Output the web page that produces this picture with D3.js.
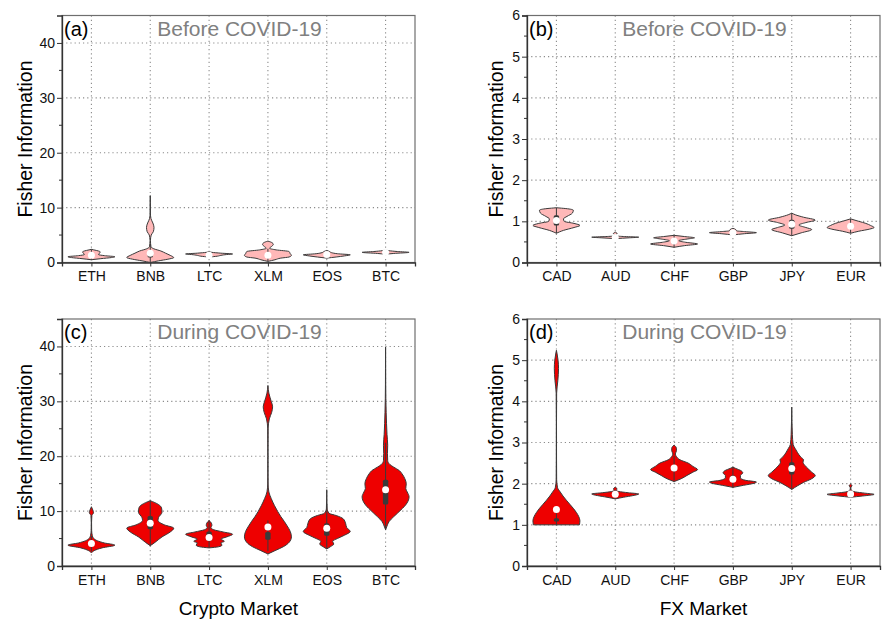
<!DOCTYPE html>
<html>
<head>
<meta charset="utf-8">
<script src="https://cdn.jsdelivr.net/npm/d3@7"></script>
<style>
  body { margin: 0; background: #fff; }
  svg { font-family: "Liberation Sans", Arial, sans-serif; }
</style>
</head>
<body>
<svg id="chart" width="882" height="620"></svg>
<script>
// categories
const cryptoNames = ["ETH", "BNB", "LTC", "XLM", "EOS", "BTC"];
const fxNames = ["CAD", "AUD", "CHF", "GBP", "JPY", "EUR"];

// violin profiles: [value, relative density]
const cryptoBefore = [
  [[0.5,0],[0.7,0.4],[0.9,0.85],[1.05,1.0],[1.25,0.55],[1.45,0.3],[1.65,0.33],[1.9,0.38],[2.1,0.3],[2.3,0.1],[2.4,0]],
  [[0,0],[0.3,0.35],[0.6,0.75],[0.9,1.0],[1.3,0.85],[1.7,0.65],[2.1,0.45],[2.5,0.15],[2.9,0.03],[4,0.008],[5,0.04],[5.6,0.13],[6.4,0.16],[7.2,0.11],[8,0.03],[9,0.006],[11,0.004],[12.2,0]],
  [[1.0,0],[1.15,0.35],[1.3,0.5],[1.45,0.75],[1.55,1.0],[1.7,0.5],[1.85,0.12],[2.0,0]],
  [[0.2,0],[0.5,0.3],[0.8,0.55],[1.0,0.9],[1.3,1.0],[1.6,0.95],[2.0,0.9],[2.3,0.35],[2.6,0.07],[2.9,0.15],[3.3,0.23],[3.6,0.18],[3.9,0]],
  [[0.8,0],[1.0,0.4],[1.2,0.75],[1.4,1.0],[1.6,0.45],[1.8,0.2],[2.0,0.12],[2.2,0]],
  [[1.5,0],[1.65,0.35],[1.85,1.0],[2.0,0.5],[2.15,0.15],[2.3,0]]
];
const cryptoBeforeMedian = [1.3, 1.7, 1.3, 1.3, 1.45, 1.8];
const cryptoBeforeQ1 = [1.0, 0.9, 1.2, 1.0, 1.25, 1.7];
const cryptoBeforeQ3 = [1.6, 1.9, 1.5, 1.6, 1.6, 1.9];

const cryptoDuring = [
  [[2.4,0],[2.8,0.12],[3.3,0.45],[3.8,1.0],[4.2,0.55],[4.6,0.25],[5.0,0.1],[5.5,0.04],[6.5,0.01],[8,0.006],[9.2,0.02],[9.7,0.09],[10.2,0.06],[10.8,0]],
  [[3.7,0],[4.3,0.2],[5.3,0.5],[6.2,0.85],[6.9,1.0],[7.5,0.6],[8.3,0.33],[8.8,0.35],[9.8,0.5],[10.6,0.48],[11.2,0.35],[11.9,0]],
  [[3.3,0],[3.5,0.4],[3.8,0.55],[4.2,0.5],[4.5,0.65],[4.9,0.5],[5.3,0.75],[5.8,1.0],[6.2,0.6],[6.6,0.2],[7.0,0.08],[7.4,0.12],[7.8,0.1],[8.3,0]],
  [[2.2,0],[2.8,0.3],[3.5,0.65],[4.3,0.9],[5.3,1.0],[6.3,0.95],[7.3,0.82],[8.1,0.7],[9.0,0.55],[9.9,0.42],[11,0.28],[12.3,0.14],[13.5,0.04],[15,0.008],[20,0.004],[25,0.01],[26.8,0.06],[28,0.16],[29,0.2],[30,0.14],[31.5,0.04],[32.9,0]],
  [[3.1,0],[3.5,0.15],[4.0,0.3],[4.5,0.25],[5.0,0.45],[5.6,0.75],[6.3,1.0],[7.0,0.85],[7.8,0.8],[8.6,0.7],[9.2,0.4],[9.6,0.1],[10.5,0.015],[12,0.006],[13.9,0]],
  [[6.6,0],[7.5,0.08],[8.1,0.15],[9.0,0.35],[9.6,0.5],[10.5,0.72],[11.1,0.85],[12.6,1.0],[13.5,0.92],[14.1,0.86],[15.0,0.88],[15.9,0.82],[16.8,0.7],[17.4,0.58],[18.0,0.35],[18.5,0.18],[19.2,0.09],[20.5,0.08],[22,0.09],[24,0.06],[26,0.04],[28,0.025],[30.5,0.012],[33,0.006],[36,0.004],[39.9,0]]
];
const cryptoDuringMedian = [4.1, 7.8, 5.2, 7.1, 6.9, 13.9];
const cryptoDuringQ1 = [3.7, 6.7, 4.6, 4.8, 5.5, 11.2];
const cryptoDuringQ3 = [4.4, 9.1, 6.3, 6.2, 7.8, 15.7];

const fxBefore = [
  [[0.71,0],[0.78,0.3],[0.85,0.75],[0.9,1.0],[0.95,0.75],[1.0,0.33],[1.06,0.3],[1.12,0.45],[1.2,0.68],[1.27,0.72],[1.31,0.4],[1.33,0]],
  [[0.58,0],[0.6,0.6],[0.615,1.0],[0.63,0.4],[0.645,0.05],[0.68,0.02],[0.7,0.08],[0.72,0.06],[0.74,0]],
  [[0.37,0],[0.41,0.45],[0.45,1.0],[0.49,0.5],[0.53,0.2],[0.57,0.55],[0.6,0.87],[0.63,0.45],[0.66,0]],
  [[0.67,0],[0.7,0.5],[0.725,1.0],[0.75,0.5],[0.77,0.15],[0.8,0.12],[0.83,0]],
  [[0.65,0],[0.72,0.4],[0.8,0.85],[0.85,0.6],[0.91,0.3],[0.97,0.6],[1.03,1.0],[1.1,0.5],[1.16,0.15],[1.2,0]],
  [[0.71,0],[0.76,0.35],[0.81,0.8],[0.85,1.0],[0.9,0.85],[0.95,0.65],[1.0,0.35],[1.06,0]]
];
const fxBeforeMedian = [1.02, 0.61, 0.52, 0.72, 0.93, 0.88];
const fxBeforeQ1 = [0.9, 0.6, 0.45, 0.71, 0.82, 0.83];
const fxBeforeQ3 = [1.15, 0.62, 0.58, 0.74, 1.04, 0.93];

const fxDuring = [
  [[1.0,0.98],[1.1,1.0],[1.2,0.95],[1.3,0.85],[1.4,0.72],[1.5,0.57],[1.6,0.42],[1.7,0.28],[1.8,0.16],[1.9,0.05],[2.1,0.01],[2.6,0.005],[3.5,0.004],[4.2,0.01],[4.5,0.06],[4.8,0.09],[5.0,0.07],[5.15,0.03],[5.24,0]],
  [[1.63,0],[1.67,0.35],[1.71,0.75],[1.75,1.0],[1.78,0.55],[1.81,0.15],[1.84,0.04],[1.87,0.08],[1.9,0.04],[1.92,0]],
  [[2.05,0],[2.12,0.3],[2.2,0.55],[2.28,0.8],[2.34,1.0],[2.42,0.8],[2.5,0.6],[2.58,0.25],[2.66,0.1],[2.72,0.05],[2.8,0.1],[2.86,0.1],[2.94,0]],
  [[1.91,0],[1.96,0.45],[2.01,0.9],[2.04,1.0],[2.08,0.55],[2.14,0.32],[2.2,0.32],[2.26,0.42],[2.32,0.33],[2.37,0.12],[2.4,0]],
  [[1.86,0],[1.95,0.25],[2.03,0.5],[2.12,0.85],[2.2,1.0],[2.28,0.85],[2.36,0.7],[2.45,0.55],[2.52,0.48],[2.58,0.5],[2.65,0.38],[2.75,0.25],[2.85,0.15],[2.95,0.06],[3.2,0.025],[3.5,0.01],[3.86,0]],
  [[1.67,0],[1.7,0.5],[1.74,1.0],[1.77,0.6],[1.8,0.2],[1.84,0.03],[1.9,0.01],[1.95,0.06],[1.99,0]]
];
const fxDuringMedian = [1.37, 1.74, 2.38, 2.11, 2.37, 1.75];
const fxDuringQ1 = [1.08, 1.72, 2.3, 2.05, 2.22, 1.73];
const fxDuringQ3 = [1.16, 1.77, 2.45, 2.2, 2.52, 1.77];

const cryptoTicks = [0, 10, 20, 30, 40];
const fxTicks = [0, 1, 2, 3, 4, 5, 6];

const svg = d3.select("#chart");
const W = 353, H = 247;

const panels = [
  { tag: "(a)", title: "Before COVID-19", names: cryptoNames, prof: cryptoBefore, med: cryptoBeforeMedian, q1: cryptoBeforeQ1, q3: cryptoBeforeQ3, yMax: 45, ticks: cryptoTicks, minor: 5, fill: "#ffb8b8", left: 62, top: 15.5, xTitle: null, yTitleX: 32 },
  { tag: "(b)", title: "Before COVID-19", names: fxNames, prof: fxBefore, med: fxBeforeMedian, q1: fxBeforeQ1, q3: fxBeforeQ3, yMax: 6, ticks: fxTicks, minor: 0.5, fill: "#ffb8b8", left: 527, top: 15.5, xTitle: null, yTitleX: 503 },
  { tag: "(c)", title: "During COVID-19", names: cryptoNames, prof: cryptoDuring, med: cryptoDuringMedian, q1: cryptoDuringQ1, q3: cryptoDuringQ3, yMax: 45, ticks: cryptoTicks, minor: 5, fill: "#ee0000", left: 62, top: 319, xTitle: "Crypto Market", yTitleX: 32 },
  { tag: "(d)", title: "During COVID-19", names: fxNames, prof: fxDuring, med: fxDuringMedian, q1: fxDuringQ1, q3: fxDuringQ3, yMax: 6, ticks: fxTicks, minor: 0.5, fill: "#ee0000", left: 527, top: 319, xTitle: "FX Market", yTitleX: 503 }
];

const halfWidth = d3.scaleLinear().domain([0, 1]).range([0, 23.5]);

panels.forEach(function (p) {
  const g = svg.append("g").attr("transform", "translate(" + p.left + "," + p.top + ")");
  const x = d3.scalePoint().domain(p.names).range([0, W]).padding(0.5);
  const y = d3.scaleLinear().domain([0, p.yMax]).range([H, 0]);

  // grid
  g.append("g").selectAll("line")
    .data(p.ticks.filter(t => t > 0 && t < p.yMax))
    .join("line")
    .attr("x1", 0).attr("x2", W)
    .attr("y1", d => y(d)).attr("y2", d => y(d))
    .attr("stroke", "#8c8c8c").attr("stroke-width", 1.1)
    .attr("stroke-dasharray", "1.2,3");
  g.append("g").selectAll("line")
    .data(p.names)
    .join("line")
    .attr("x1", d => x(d)).attr("x2", d => x(d))
    .attr("y1", 0).attr("y2", H)
    .attr("stroke", "#8c8c8c").attr("stroke-width", 1.1)
    .attr("stroke-dasharray", "1.2,3");

  // violins
  p.names.forEach(function (name, i) {
    const cx = x(name);
    const area = d3.area()
      .curve(d3.curveMonotoneY)
      .y(d => y(d[0]))
      .x0(d => cx - halfWidth(d[1]))
      .x1(d => cx + halfWidth(d[1]));
    g.append("path")
      .datum(p.prof[i])
      .attr("d", area)
      .attr("fill", p.fill)
      .attr("stroke", "#3a3a3a")
      .attr("stroke-width", 1);

    // inner box
    const lo = p.prof[i][0][0], hi = p.prof[i][p.prof[i].length - 1][0];
    const iqr = p.q3[i] - p.q1[i];
    const wLo = Math.max(lo, p.q1[i] - 1.5 * iqr), wHi = Math.min(hi, p.q3[i] + 1.5 * iqr);
    g.append("line")
      .attr("x1", cx).attr("x2", cx)
      .attr("y1", y(wLo)).attr("y2", y(wHi))
      .attr("stroke", "#3a3a3a").attr("stroke-width", 1);
    g.append("rect")
      .attr("x", cx - 2.7).attr("width", 5.4)
      .attr("y", y(p.q3[i])).attr("height", Math.max(2, y(p.q1[i]) - y(p.q3[i])))
      .attr("rx", 1.5)
      .attr("fill", "#3a3a3a");
    g.append("circle")
      .attr("cx", cx).attr("cy", y(p.med[i])).attr("r", 3.5)
      .attr("fill", "#fff");
  });

  // frame
  g.append("rect")
    .attr("x", 0).attr("y", 0).attr("width", W).attr("height", H)
    .attr("fill", "none").attr("stroke", "#6e6e6e").attr("stroke-width", 1.2);

  // y axis
  const yAxis = g.append("g")
    .call(d3.axisLeft(y).tickValues(p.ticks).tickSize(5).tickPadding(2).tickFormat(d3.format("d")));
  yAxis.select(".domain").attr("stroke", "#333").attr("stroke-width", 1.3);
  yAxis.selectAll(".tick line").attr("stroke", "#333");
  yAxis.selectAll("text").attr("font-size", 14).attr("fill", "#111")
    .attr("font-family", "Liberation Sans, Arial, sans-serif");
  g.append("g").selectAll("line")
    .data(d3.range(p.minor, p.yMax, p.minor * 2))
    .join("line")
    .attr("x1", -3).attr("x2", 0)
    .attr("y1", d => y(d)).attr("y2", d => y(d))
    .attr("stroke", "#333");

  // x axis
  const xAxis = g.append("g")
    .attr("transform", "translate(0," + H + ")")
    .call(d3.axisBottom(x).tickSize(4).tickPadding(5));
  xAxis.select(".domain").attr("stroke", "#333").attr("stroke-width", 1.3);
  xAxis.selectAll(".tick line").attr("stroke", "#333");
  xAxis.selectAll("text").attr("font-size", 14).attr("fill", "#111")
    .attr("font-family", "Liberation Sans, Arial, sans-serif");

  // labels
  g.append("text")
    .attr("x", 2).attr("y", 20)
    .attr("font-size", 20)
    .attr("fill", "#000")
    .text(p.tag);
  g.append("text")
    .attr("x", W / 2 + 1).attr("y", 20)
    .attr("text-anchor", "middle")
    .attr("font-size", 21)
    .attr("fill", "#808080")
    .text(p.title);

  svg.append("text")
    .attr("transform", "translate(" + p.yTitleX + "," + (p.top + H / 2) + ") rotate(-90)")
    .attr("text-anchor", "middle")
    .attr("font-size", 19.5)
    .attr("fill", "#000")
    .text("Fisher Information");

  if (p.xTitle) {
    svg.append("text")
      .attr("x", p.left + W / 2).attr("y", p.top + H + 49)
      .attr("text-anchor", "middle")
      .attr("font-size", 19)
      .attr("fill", "#000")
      .text(p.xTitle);
  }
});
</script>
</body>
</html>
